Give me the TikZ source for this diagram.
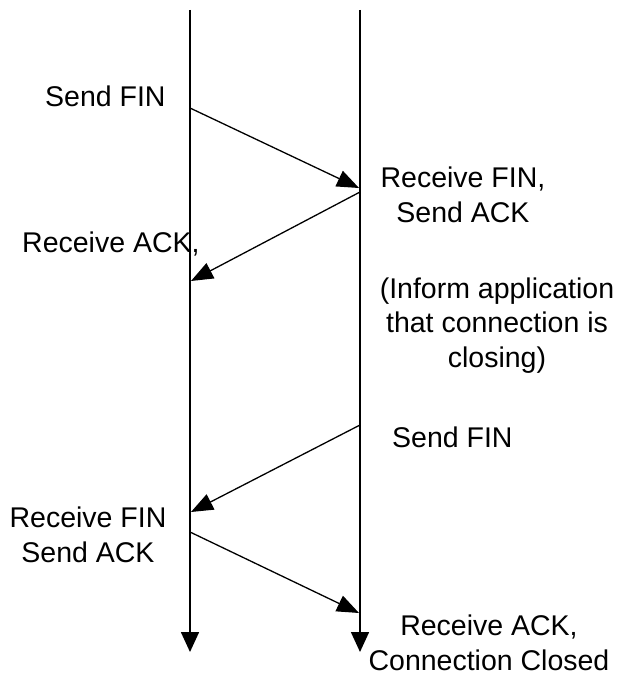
\documentclass[tikz,border=0pt]{standalone}
\usepackage{fontspec}
\setmainfont{Liberation Sans}
\usetikzlibrary{arrows.meta}
\begin{document}
\begin{tikzpicture}[x=1pt,y=-1pt,
  lbl/.style={font=\fontsize{28.5}{34.5}\selectfont, inner sep=0pt, align=center},
  life/.style={line width=1.6pt, -{Triangle[length=20pt,width=18pt]}},
  msg/.style={line width=1.3pt, -{Triangle[length=22pt,width=17pt]}}]
\useasboundingbox (0,0) rectangle (616,677);
% lifelines
\coordinate (Lt) at (190,10);
\coordinate (Lb) at (190,652);
\coordinate (Rt) at (360,10);
\coordinate (Rb) at (360,652);
\draw[life] (Lt) -- (Lb);
\draw[life] (Rt) -- (Rb);
% message endpoints
\coordinate (a1) at (190,108);
\coordinate (b1) at (359,188);
\coordinate (a2) at (360,192);
\coordinate (b2) at (191,281);
\coordinate (a3) at (360,425);
\coordinate (b3) at (191,512);
\coordinate (a4) at (190,532);
\coordinate (b4) at (359,613);
\draw[msg] (a1) -- (b1);
\draw[msg] (a2) -- (b2);
\draw[msg] (a3) -- (b3);
\draw[msg] (a4) -- (b4);
% labels (multi-line nodes anchored at the baseline of their last line)
\node[lbl, anchor=base west] (t1) at (45,106) {Send FIN};
\node[lbl, anchor=base] (t2) at (463,222) {Receive FIN,\\Send ACK};
\node[lbl, anchor=base west] (t3) at (22,252) {Receive ACK,};
\node[lbl, anchor=base] (t4) at (497,367) {(Inform application\\that connection is\\closing)};
\node[lbl, anchor=base west] (t5) at (392,447) {Send FIN};
\node[lbl, anchor=base] (t6) at (88,562) {Receive FIN\\Send ACK};
\node[lbl, anchor=base] (t7) at (489,670) {Receive ACK,\\Connection Closed};
\end{tikzpicture}
\end{document}
